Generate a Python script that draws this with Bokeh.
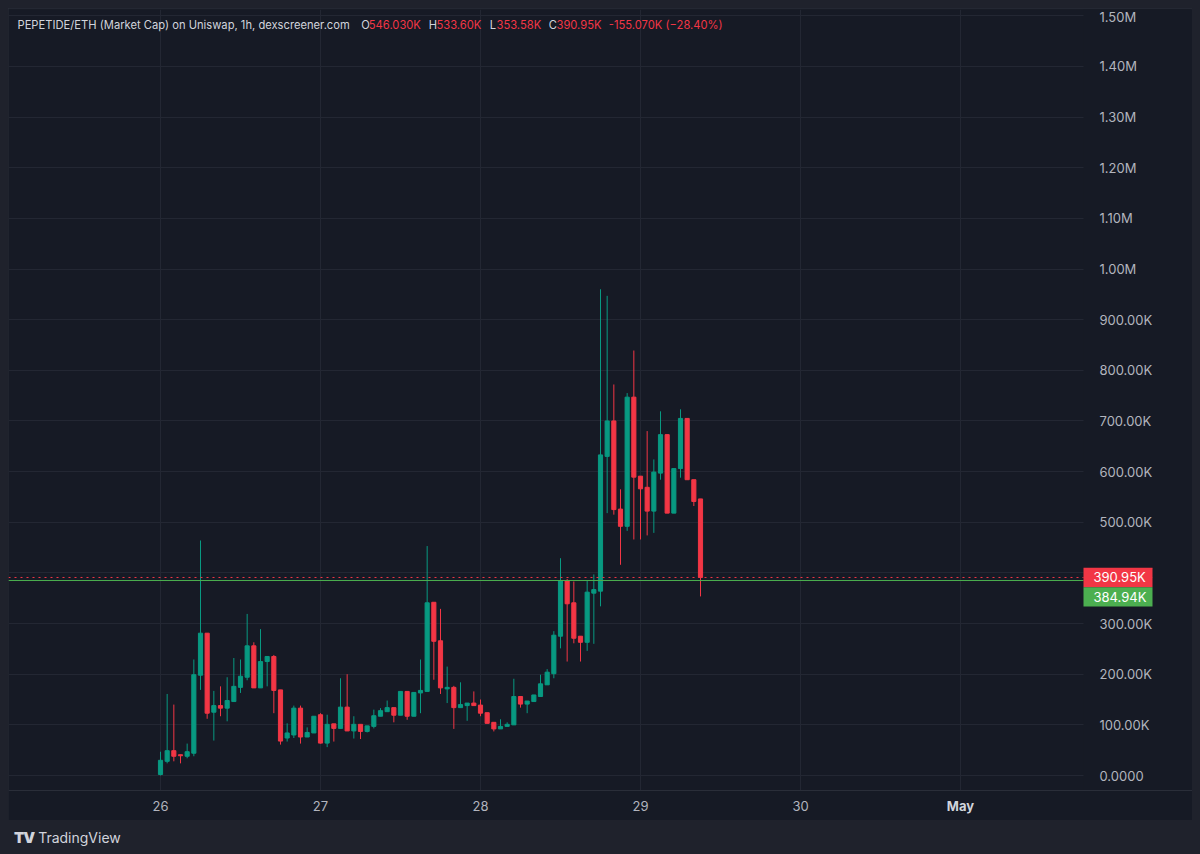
from bokeh.plotting import figure
from bokeh.models import (ColumnDataSource, Range1d, FixedTicker, Span, Label, Div, BoxAnnotation,
                          GlobalInlineStyleSheet)
from bokeh.layouts import column
from bokeh.embed import file_html
from bokeh.resources import INLINE

# ---------------- data (market cap, hourly candles from Apr 26 00:00) ----------------
hours = list(range(82))
opens = [2, 28, 49, 41, 38, 44, 198, 281, 125, 138, 133, 146, 174, 194, 256, 173, 225, 235, 169, 74,
         80, 133, 76, 84, 120, 64, 102, 93, 135, 88, 101, 87, 97, 117, 126, 134, 119, 166, 117, 163,
         166, 342, 266, 171, 174, 134, 138, 143, 139, 124, 105, 92, 97, 100, 156, 141, 146, 156, 179, 201,
         275, 384, 341, 275, 263, 360, 364, 630, 700, 526, 492, 747, 591, 569, 522, 597, 673, 518, 606, 705,
         584, 546.03]
highs = [47, 161, 140, 41, 63, 229, 464, 281, 167, 176, 194, 232, 229, 319, 263, 289, 235, 238, 169, 103,
         138, 138, 95, 117, 123, 120, 102, 192, 200, 117, 101, 98, 130, 133, 148, 134, 166, 166, 164, 229,
         453, 342, 329, 215, 177, 184, 143, 166, 150, 124, 105, 111, 105, 191, 156, 147, 159, 199, 210, 285,
         429, 388, 383, 275, 385, 397, 960, 947, 772, 565, 755, 839, 591, 680, 624, 719, 673, 606, 723, 705,
         584, 546.03]
lows = [0, 24, 28, 24, 34, 38, 169, 112, 69, 117, 107, 146, 163, 188, 173, 173, 176, 123, 61, 67,
        74, 63, 76, 84, 63, 56, 67, 93, 88, 73, 72, 85, 93, 117, 126, 105, 119, 110, 117, 123,
        166, 189, 161, 143, 92, 134, 108, 138, 117, 103, 87, 92, 97, 100, 134, 123, 146, 156, 179, 192,
        251, 225, 261, 225, 246, 260, 334, 518, 515, 416, 483, 466, 466, 474, 479, 584, 518, 518, 588, 584,
        532, 353.58]
closes = [30, 49, 38, 39, 47, 199, 281, 123, 138, 133, 148, 176, 196, 256, 173, 225, 235, 168, 68, 84,
          133, 76, 85, 117, 64, 101, 93, 135, 88, 101, 87, 98, 118, 128, 134, 119, 166, 117, 164, 168,
          341, 265, 173, 174, 134, 140, 143, 138, 123, 103, 92, 97, 101, 156, 141, 147, 159, 181, 204, 277,
          384, 339, 271, 263, 362, 367, 633, 700, 525, 492, 747, 589, 566, 522, 599, 673, 518, 606, 705, 584,
          541, 390.95]

price_ticks = [i * 100000 for i in range(16)]
price_tick_labels = ["0.0000", "100.00K", "200.00K", "300.00K", "400.00K", "500.00K", "600.00K",
                     "700.00K", "800.00K", "900.00K", "1.00M", "1.10M", "1.20M", "1.30M", "1.40M", "1.50M"]
day_ticks = [0, 24, 48, 72, 96, 120]
day_labels = ["26", "27", "28", "29", "30", "May"]

last_close = 390950
last_close_label = "390.95K"
ref_price = 384940
ref_price_label = "384.94K"

header_symbol = "PEPETIDE/ETH (Market Cap) on Uniswap, 1h, dexscreener.com"
ohlc_keys = ["O", "H", "L", "C"]
ohlc_values = ["546.030K", "533.60K", "353.58K", "390.95K"]
change_text = "-155.070K (\u221228.40%)"

# ---------------- style ----------------
PANEL = "#161a25"
OUTER = "#1f222c"
GRID = "#232733"
UP = "#089981"
DOWN = "#f23645"
TAG_GREEN = "#4caf50"
TXT = "#b2b5be"
FONT = "Inter"

# layout geometry (page pixels); the figure sits at page (8, 8)
FIG_W, FIG_H = 1184, 812
FR_L, FR_R, FR_T, FR_B = 8, 1192, 9, 820      # frame covers the whole panel
PLOT_R = 1083                                  # right edge of the candle pane / price scale start
PLOT_B = 790                                   # bottom edge of the candle pane / time scale start
TAG_R = 1152                                   # right edge of price tags
TAG_H = 19.4                                   # tag height in px
PX_DAY = 160.0
X0_PX = 160.0          # page x of Apr 26 00:00
Y0_PX = 775.0          # page y of value 0
PX_100K = 50.65


def px_to_x(px):
    return (px - X0_PX) / (PX_DAY / 24)


def py_to_y(py):
    return (Y0_PX - py) / PX_100K * 1e5


def y_to_py(v):
    return Y0_PX - v / 1e5 * PX_100K


x_start, x_end = px_to_x(FR_L), px_to_x(FR_R)
y_start, y_end = py_to_y(FR_B), py_to_y(FR_T)

# ---------------- figure ----------------
p = figure(width=FIG_W, height=FIG_H,
           x_range=Range1d(x_start, x_end), y_range=Range1d(y_start, y_end),
           y_axis_location="right", output_backend="svg", toolbar_location=None,
           min_border_left=0, min_border_right=0, min_border_top=FR_T - 8, min_border_bottom=0,
           background_fill_color=PANEL, border_fill_color=PANEL, outline_line_color=None)
p.margin = (8, 0, 0, 8)
p.styles = {"outline": "1px solid #2a2e39", "outline-offset": "-1px"}

# price scale (right)
ya = p.yaxis[0]
ya.fixed_location = px_to_x(PLOT_R)
ya.ticker = FixedTicker(ticks=price_ticks)
ya.major_label_overrides = {t: l for t, l in zip(price_ticks, price_tick_labels)}
ya.axis_line_color = None
ya.major_tick_line_color = None
ya.minor_tick_line_color = None
ya.major_label_standoff = 10
ya.major_label_text_color = TXT
ya.major_label_text_font = FONT
ya.major_label_text_font_size = "13px"

# time scale (below)
xa = p.xaxis[0]
xa.fixed_location = py_to_y(PLOT_B)
xa.ticker = FixedTicker(ticks=day_ticks[:5])
xa.major_label_overrides = {t: l for t, l in zip(day_ticks[:5], day_labels[:5])}
xa.axis_line_color = "#2a2e39"
xa.major_tick_line_color = None
xa.minor_tick_line_color = None
xa.major_label_standoff = 4
xa.major_label_text_color = TXT
xa.major_label_text_font = FONT
xa.major_label_text_font_size = "13px"

p.xgrid.ticker = FixedTicker(ticks=day_ticks)
p.ygrid.ticker = FixedTicker(ticks=price_ticks)
p.xgrid.grid_line_color = GRID
p.ygrid.grid_line_color = GRID

# ---------------- candles ----------------
o = [v * 1000 for v in opens]
h = [v * 1000 for v in highs]
l = [v * 1000 for v in lows]
c = [v * 1000 for v in closes]
colors = [UP if cc >= oo else DOWN for oo, cc in zip(o, c)]
src = ColumnDataSource(dict(x=hours, open=o, high=h, low=l, close=c, color=colors,
                            top=[max(a, b) for a, b in zip(o, c)],
                            bottom=[min(a, b) for a, b in zip(o, c)]))
p.segment(x0="x", y0="high", x1="x", y1="low", line_color="color", line_width=1, source=src)
p.vbar(x="x", width=0.62, top="top", bottom="bottom", fill_color="color", line_color="color",
       line_width=1, source=src)

# price lines
p.add_layout(Span(location=ref_price, dimension="width", line_color=TAG_GREEN, line_width=1,
                  level="glyph"))
p.add_layout(Span(location=last_close, dimension="width", line_color=DOWN, line_width=1,
                  line_dash="dotted", level="glyph"))

# panes of the two scales (hide grid there)
p.add_layout(BoxAnnotation(left=px_to_x(PLOT_R), fill_color=PANEL, fill_alpha=1.0,
                           line_color=None, level="glyph"))
p.add_layout(BoxAnnotation(top=py_to_y(PLOT_B), fill_color=PANEL, fill_alpha=1.0,
                           line_color=None, level="glyph"))

# price tags on the price scale: red tag centred on the last close, green tag just below it
red_mid = y_to_py(last_close)
tags = [(red_mid, last_close_label, DOWN), (red_mid + TAG_H, ref_price_label, TAG_GREEN)]
for mid, txt, col in tags:
    p.add_layout(BoxAnnotation(left=px_to_x(PLOT_R), right=px_to_x(TAG_R),
                               top=py_to_y(mid - TAG_H / 2), bottom=py_to_y(mid + TAG_H / 2),
                               fill_color=col, fill_alpha=1.0, line_color=None))
    p.add_layout(Label(x=px_to_x(1093), y=py_to_y(mid), text=txt, text_align="left",
                       text_baseline="middle", text_color="white", text_font=FONT,
                       text_font_size="13px"))

# bold month label
p.add_layout(Label(x=day_ticks[5], y=py_to_y(805), text=day_labels[5], text_align="center",
                   text_baseline="middle", text_color="#d1d4dc", text_font=FONT,
                   text_font_size="13px", text_font_style="bold"))

# header legend
hy = py_to_y(24)
header_parts = [(17, header_symbol, "#d1d4dc")]
key_px = [360.7, 428.3, 489.3, 548.3]
val_px = [368.3, 436.0, 496.0, 556.0]
for k, kx, v, vx in zip(ohlc_keys, key_px, ohlc_values, val_px):
    header_parts.append((kx, k, "#d1d4dc"))
    header_parts.append((vx, v, DOWN))
header_parts.append((608.3, change_text, DOWN))
for px, t, col in header_parts:
    p.add_layout(Label(x=px_to_x(px), y=hy, text=t, text_align="left", text_baseline="middle",
                       text_color=col, text_font=FONT, text_font_size="11.2px"))

logo = Div(text='<span style="font-weight:900;font-size:15px;letter-spacing:-1px;">TV</span>'
                '&nbsp;TradingView',
           width=300, height=34,
           styles={"color": "#d1d4dc", "font-family": "Inter", "font-size": "14px",
                   "padding-top": "2px", "padding-left": "9px"})

layout = column(p, logo, spacing=0)
layout.stylesheets = [GlobalInlineStyleSheet(css="body{background-color:%s;}" % OUTER)]

open("out.html", "w").write(file_html(layout, INLINE))
